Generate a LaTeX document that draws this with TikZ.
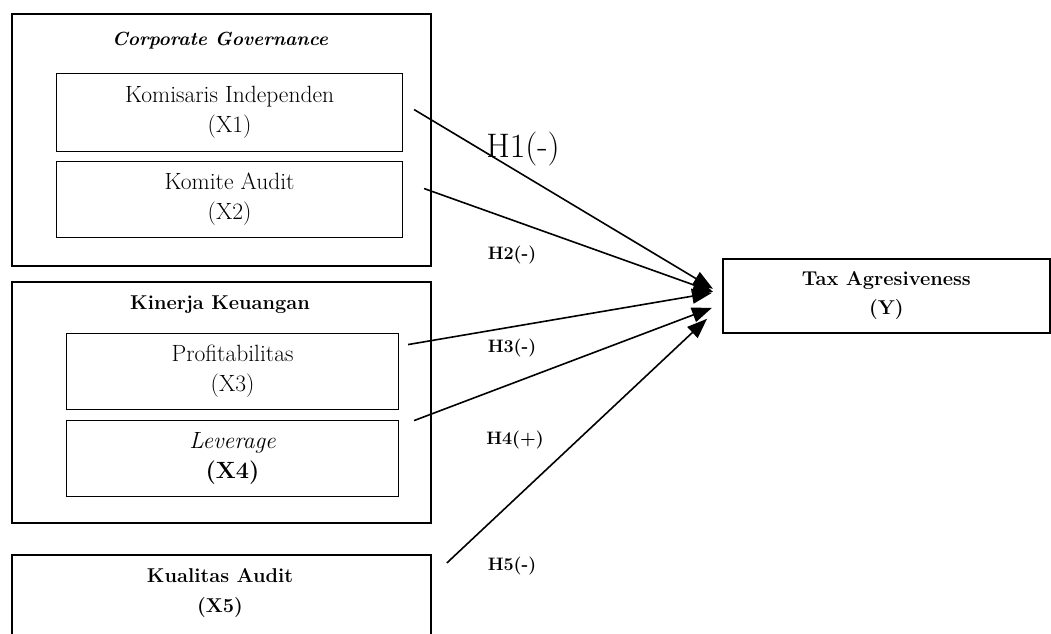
\documentclass[tikz,border=0pt]{standalone}
\usetikzlibrary{arrows.meta,calc}
\begin{document}
\begin{tikzpicture}[x=1pt,y=-1pt,
  outerbox/.style={draw, line width=1.8pt, inner sep=0pt, anchor=north west},
  innerbox/.style={draw, line width=1.1pt, inner sep=0pt, anchor=north west, align=center,
    font=\fontsize{23.5}{30}\selectfont},
  title/.style={font=\fontsize{20}{30}\selectfont\bfseries, align=center},
  arr/.style={line width=1.6pt, -{Triangle[length=20pt,width=15pt]}},
  hlab/.style={font=\fontsize{18}{20}\selectfont\bfseries}]
\useasboundingbox (0,0) rectangle (1051,633);
\clip (0,0) rectangle (1051,633);

% group boxes
\node[outerbox, minimum width=419pt, minimum height=252pt] (cg) at (11,13) {};
\node[outerbox, minimum width=419pt, minimum height=241pt] (kk) at (11,281) {};
\node[outerbox, minimum width=419pt, minimum height=86pt] (x5) at (11,554) {};
\node[title] (x5t) at (220,593) {Kualitas Audit\\(X5)};

% titles
\node[title, font=\fontsize{19}{24}\selectfont\bfseries] (cgt) at (220,41) {\textit{Corporate Governance}};
\node[title] (kkt) at (220,305) {Kinerja Keuangan};

% inner boxes
\node[innerbox, minimum width=346pt, minimum height=78pt] (x1) at (56,73) {Komisaris Independen\\(X1)};
\node[innerbox, minimum width=346pt, minimum height=76pt] (x2) at (56,161) {Komite Audit\\(X2)};
\node[innerbox, minimum width=332pt, minimum height=76pt] (x3) at (66,333) {Profitabilitas\\(X3)};
\node[innerbox, minimum width=332pt, minimum height=76pt] (x4) at (66,420) {\textit{Leverage}\\\textbf{(X4)}};

% dependent
\node[outerbox, line width=1.6pt, minimum width=327pt, minimum height=74pt, align=center,
      font=\fontsize{20}{29}\selectfont\bfseries] (y) at (722,258) {Tax Agresiveness\\(Y)};

% connector ends
\coordinate (s1) at ($(x1.east)+(11,-3)$);
\coordinate (s2) at ($(x2.east)+(21,-11)$);
\coordinate (s3) at ($(x3.east)+(9,-27)$);
\coordinate (s4) at ($(x4.east)+(15,-38)$);
\coordinate (s5) at ($(x5.north east)+(15,9)$);
\coordinate (t1) at ($(y.west)+(-9,-7)$);
\coordinate (t2) at ($(y.west)+(-9,-4)$);
\coordinate (t3) at ($(y.west)+(-10,-3)$);
\coordinate (t4) at ($(y.west)+(-10,12)$);
\coordinate (t5) at ($(y.west)+(-15,23)$);

\draw[arr] (s1) -- (t1);
\draw[arr] (s2) -- (t2);
\draw[arr] (s3) -- (t3);
\draw[arr] (s4) -- (t4);
\draw[arr] (s5) -- (t5);

% labels
\node[font=\fontsize{34}{36}\selectfont] (h1) at (523,149) {H1(-)};
\node[hlab] (h2) at (512,255) {H2(-)};
\node[hlab] (h3) at (512,348) {H3(-)};
\node[hlab] (h4) at (515,440) {H4(+)};
\node[hlab] (h5) at (512,566) {H5(-)};
\end{tikzpicture}
\end{document}
